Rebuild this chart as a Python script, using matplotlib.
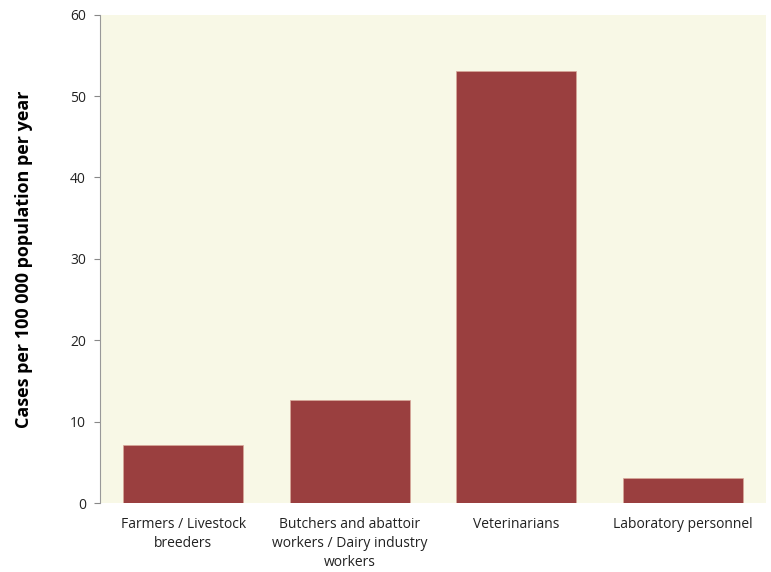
import matplotlib
matplotlib.use("Agg")
import matplotlib.pyplot as plt

categories = ["Farmers / Livestock\nbreeders",
              "Butchers and abattoir\nworkers / Dairy industry\nworkers",
              "Veterinarians",
              "Laboratory personnel"]
values = [7.1, 12.7, 53.1, 3.05]
y_ticks = [0, 10, 20, 30, 40, 50, 60]

plt.rcParams["font.family"] = ["Open Sans", "DejaVu Sans"]

fig = plt.figure(figsize=(7.71, 5.72), dpi=100)
ax = fig.add_axes([0.1297, 0.1206, 0.8638, 0.8537])
ax.set_facecolor("#F8F8E6")

x = list(range(len(categories)))
ax.bar(x, values, width=0.72, color="#9A3F3F", edgecolor="#D9A89A", linewidth=0.5, zorder=3)

ax.set_xlim(-0.5, len(categories) - 0.5)
ax.set_ylim(0, 60)
ax.set_yticks(y_ticks)
ax.set_xticks(x)
ax.set_xticklabels(categories, fontsize=10, color="#222222", linespacing=1.35)
ax.tick_params(axis="y", labelsize=10, colors="#222222", length=4, width=0.8, direction="out", color="#888888", pad=6)
ax.tick_params(axis="x", length=0, pad=10)

for side in ("top", "right", "bottom"):
    ax.spines[side].set_visible(False)
ax.spines["left"].set_color("#999999")
ax.spines["left"].set_linewidth(0.8)

ax.set_ylabel("Cases per 100 000 population per year", fontsize=13, fontweight="bold")
ax.yaxis.set_label_coords(-0.1, 0.5)

fig.savefig("out.png", dpi=100)
